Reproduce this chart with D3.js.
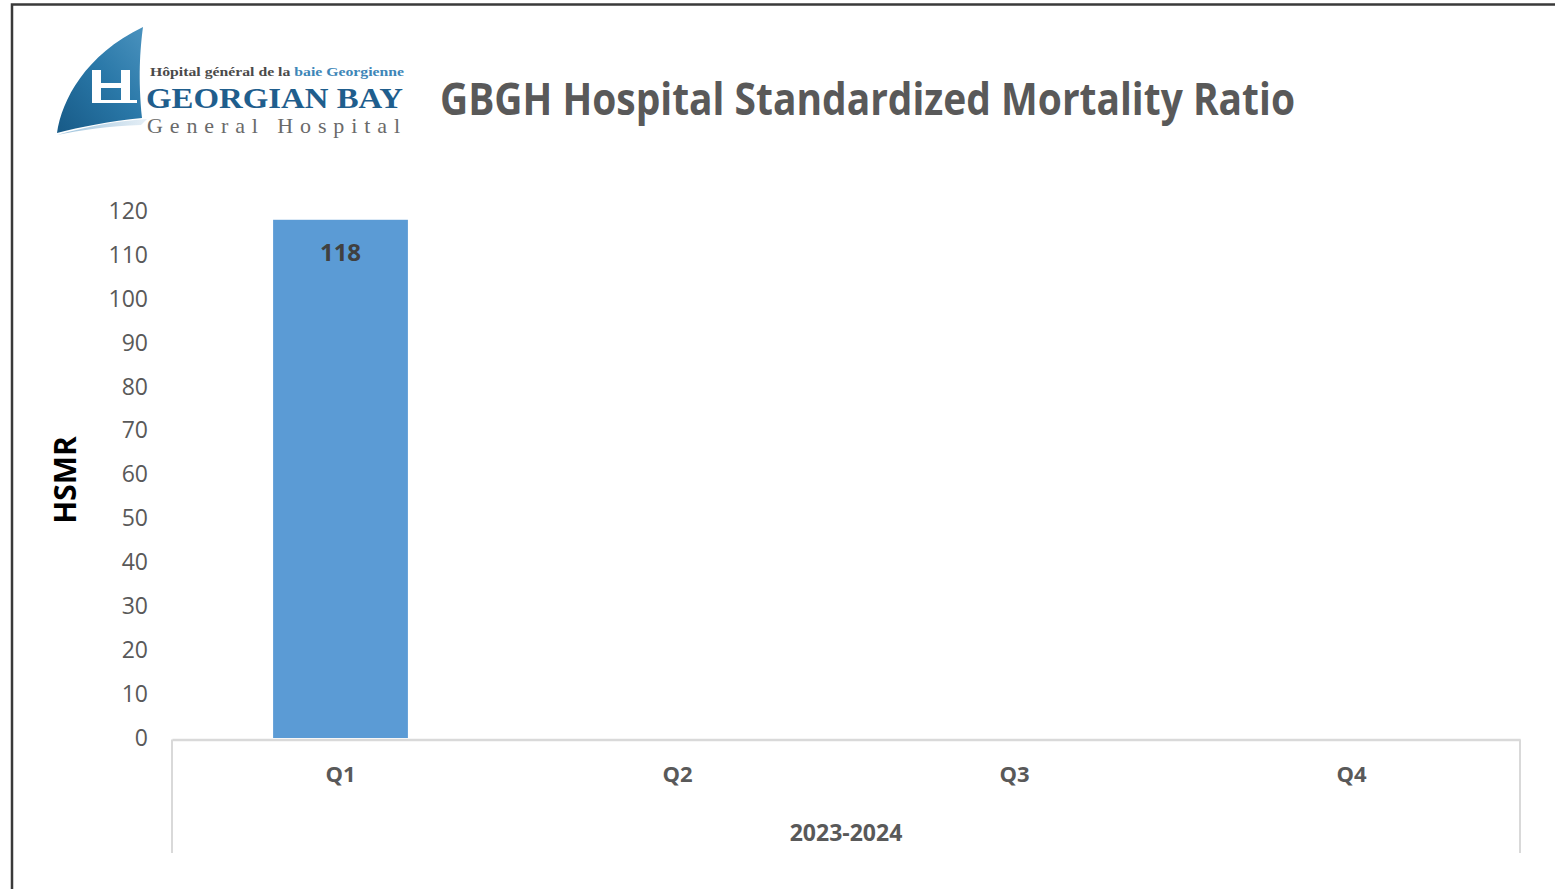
<!DOCTYPE html>
<html>
<head>
<meta charset="utf-8">
<script src="https://cdn.jsdelivr.net/npm/d3@7"></script>
<style>
  html, body { margin: 0; padding: 0; background: #fff; }
  svg { display: block; }
</style>
</head>
<body>
<div id="chart"></div>
<script>
// data
const quarters = ["Q1", "Q2", "Q3", "Q4"];
const hsmrValues = [118, null, null, null];
const fiscalYear = "2023-2024";
const yTicks = [0, 10, 20, 30, 40, 50, 60, 70, 80, 90, 100, 110, 120];

const width = 1555;
const height = 889;
const plot = { left: 172, right: 1520, top: 211, bottom: 738 };

const svg = d3.select("#chart").append("svg")
    .attr("width", width)
    .attr("height", height);

// outer frame (only top + left edges show in the crop)
svg.append("path")
    .attr("d", `M12,${height} L12,4.5 L${width},4.5`)
    .attr("fill", "none")
    .attr("stroke", "#3a3a3a")
    .attr("stroke-width", 2.5);

// ---- logo ----
const logo = svg.append("g");
const defs = svg.append("defs");
const sailGrad = defs.append("linearGradient")
    .attr("id", "sail")
    .attr("x1", "0").attr("y1", "1").attr("x2", "1").attr("y2", "0");
sailGrad.append("stop").attr("offset", "0").attr("stop-color", "#175a87");
sailGrad.append("stop").attr("offset", "0.55").attr("stop-color", "#2a78a8");
sailGrad.append("stop").attr("offset", "1").attr("stop-color", "#4a92be");

const swoosh = defs.append("linearGradient")
    .attr("id", "swoosh")
    .attr("x1", "0").attr("y1", "0").attr("x2", "1").attr("y2", "0");
swoosh.append("stop").attr("offset", "0").attr("stop-color", "#9cc2dc");
swoosh.append("stop").attr("offset", "1").attr("stop-color", "#e6eff6");

logo.append("path")
    .attr("d", "M57,133 C62,100 85,55 143,27 C140,50 138,78 142,118 C110,121 80,127 57,133 Z")
    .attr("fill", "url(#sail)");
logo.append("path")
    .attr("d", "M57,135 C85,127 115,121 147,119 L141,125 C110,126 80,130 57,135 Z")
    .attr("fill", "url(#swoosh)");
// white H cut into the sail
const hBars = [
    [92, 70, 9, 33],   // left post
    [121, 70, 9, 33],  // right post
    [101, 83, 20, 5],  // crossbar
    [101, 100, 36, 3]  // bottom rule
];
logo.selectAll("rect.h")
    .data(hBars)
    .join("rect")
    .attr("class", "h")
    .attr("x", d => d[0]).attr("y", d => d[1])
    .attr("width", d => d[2]).attr("height", d => d[3])
    .attr("fill", "#fff");

const topLine = logo.append("text")
    .attr("x", 150).attr("y", 76)
    .attr("font-family", "Liberation Serif, DejaVu Serif, serif")
    .attr("font-weight", "bold")
    .attr("font-size", 12)
    .attr("textLength", 254)
    .attr("lengthAdjust", "spacingAndGlyphs");
topLine.append("tspan").attr("fill", "#4a4a4a").text("Hôpital général de la ");
topLine.append("tspan").attr("fill", "#3d86b8").text("baie Georgienne");

logo.append("text")
    .attr("x", 146).attr("y", 108)
    .attr("font-family", "Liberation Serif, DejaVu Serif, serif")
    .attr("font-weight", "bold")
    .attr("font-size", 30)
    .attr("fill", "#1f5e8d")
    .attr("textLength", 257)
    .attr("lengthAdjust", "spacingAndGlyphs")
    .text("GEORGIAN BAY");

logo.append("text")
    .attr("x", 147).attr("y", 133)
    .attr("font-family", "Liberation Serif, DejaVu Serif, serif")
    .attr("font-size", 22)
    .attr("fill", "#6a6a6a")
    .attr("textLength", 253)
    .attr("lengthAdjust", "spacing")
    .text("General Hospital");

// ---- title ----
svg.append("text")
    .attr("x", 440).attr("y", 115)
    .attr("font-family", "Open Sans, Noto Sans, sans-serif")
    .attr("font-weight", "bold")
    .attr("font-size", 44)
    .attr("fill", "#595959")
    .attr("textLength", 855)
    .attr("lengthAdjust", "spacingAndGlyphs")
    .text("GBGH Hospital Standardized Mortality Ratio");

// ---- scales ----
const x = d3.scaleBand()
    .domain(quarters)
    .range([plot.left, plot.right])
    .paddingInner(0.6)
    .paddingOuter(0.3);

const y = d3.scaleLinear()
    .domain([0, 120])
    .range([plot.bottom, plot.top]);

// y axis labels (no line, no ticks)
const yAxis = svg.append("g")
    .attr("transform", `translate(${plot.left - 24},0)`)
    .call(d3.axisLeft(y).tickValues(yTicks).tickSize(0).tickPadding(0));
yAxis.select(".domain").remove();
yAxis.selectAll("text")
    .attr("font-family", "Open Sans, Noto Sans, sans-serif")
    .attr("font-size", 23)
    .attr("fill", "#595959");

// bars
const barData = quarters.map((q, i) => ({ q, v: hsmrValues[i] })).filter(d => d.v != null);
svg.append("g")
    .selectAll("rect")
    .data(barData)
    .join("rect")
    .attr("x", d => x(d.q))
    .attr("y", d => y(d.v))
    .attr("width", x.bandwidth())
    .attr("height", d => y(0) - y(d.v))
    .attr("fill", "#5b9bd5");

svg.append("g")
    .selectAll("text")
    .data(barData)
    .join("text")
    .attr("x", d => x(d.q) + x.bandwidth() / 2)
    .attr("y", d => y(d.v) + 41)
    .attr("text-anchor", "middle")
    .attr("font-family", "Open Sans, Noto Sans, sans-serif")
    .attr("font-weight", "bold")
    .attr("font-size", 24)
    .attr("fill", "#404040")
    .text(d => d.v);

// category axis, Excel multi-level style
const xAxis = svg.append("g")
    .attr("transform", `translate(0,${plot.bottom + 1.5})`)
    .call(d3.axisBottom(x).tickSize(0).tickPadding(27));
xAxis.select(".domain")
    .attr("stroke", "#d9d9d9")
    .attr("stroke-width", 2.5);
xAxis.selectAll("text")
    .attr("font-family", "Open Sans, Noto Sans, sans-serif")
    .attr("font-weight", "bold")
    .attr("font-size", 22)
    .attr("fill", "#595959");

svg.append("g")
    .selectAll("line")
    .data(x.range())
    .join("line")
    .attr("x1", d => d).attr("x2", d => d)
    .attr("y1", plot.bottom + 1.5)
    .attr("y2", 853)
    .attr("stroke", "#d9d9d9")
    .attr("stroke-width", 2);

svg.append("text")
    .attr("x", (plot.left + plot.right) / 2)
    .attr("y", 841)
    .attr("text-anchor", "middle")
    .attr("font-family", "Open Sans, Noto Sans, sans-serif")
    .attr("font-weight", "bold")
    .attr("font-size", 23)
    .attr("fill", "#595959")
    .text(fiscalYear);

// y axis title
svg.append("text")
    .attr("transform", "translate(76,480) rotate(-90)")
    .attr("text-anchor", "middle")
    .attr("font-family", "Open Sans, Noto Sans, sans-serif")
    .attr("font-weight", "bold")
    .attr("font-size", 30)
    .attr("fill", "#000")
    .text("HSMR");
</script>
</body>
</html>
